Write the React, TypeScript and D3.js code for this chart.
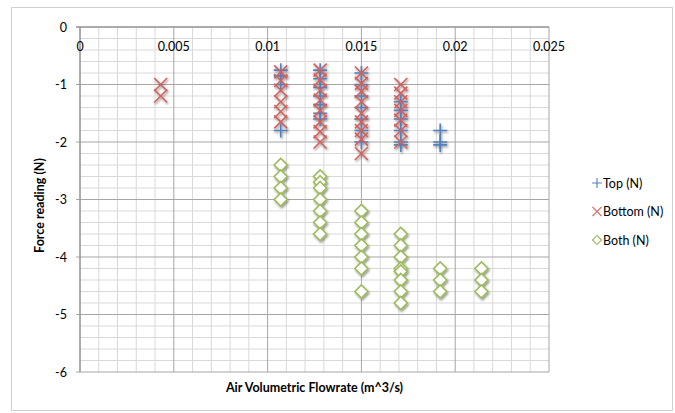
import React from "react";
import * as d3 from "d3";

const xTicks = [0, 0.005, 0.01, 0.015, 0.02, 0.025];
const yTicks = [0, -1, -2, -3, -4, -5, -6];
const seriesNames = ["Top (N)", "Bottom (N)", "Both (N)"];

// [flowrate, force]
const topPoints: [number, number][] = [
  [0.0107, -0.75], [0.0107, -0.85], [0.0107, -1.0], [0.0107, -1.8],
  [0.0128, -0.75], [0.0128, -0.9], [0.0128, -1.05], [0.0128, -1.2], [0.0128, -1.35], [0.0128, -1.5], [0.0128, -1.6],
  [0.015, -0.8], [0.015, -1.0], [0.015, -1.2], [0.015, -1.4], [0.015, -1.6], [0.015, -1.8], [0.015, -2.0],
  [0.0171, -1.3], [0.0171, -1.45], [0.0171, -1.6], [0.0171, -1.8], [0.0171, -2.0], [0.0171, -2.05],
  [0.0192, -1.8], [0.0192, -2.0], [0.0192, -2.05],
];

const bottomPoints: [number, number][] = [
  [0.0043, -1.0], [0.0043, -1.2],
  [0.0107, -0.78], [0.0107, -0.93], [0.0107, -1.1], [0.0107, -1.3], [0.0107, -1.47], [0.0107, -1.65],
  [0.0128, -0.75], [0.0128, -0.92], [0.0128, -1.1], [0.0128, -1.27], [0.0128, -1.45], [0.0128, -1.65], [0.0128, -1.82], [0.0128, -2.0],
  [0.015, -0.8], [0.015, -0.98], [0.015, -1.12], [0.015, -1.3], [0.015, -1.5], [0.015, -1.65], [0.015, -1.8], [0.015, -1.95], [0.015, -2.2],
  [0.0171, -1.0], [0.0171, -1.15], [0.0171, -1.3], [0.0171, -1.45], [0.0171, -1.62], [0.0171, -1.8], [0.0171, -2.0],
];

const bothPoints: [number, number][] = [
  [0.0107, -2.4], [0.0107, -2.6], [0.0107, -2.8], [0.0107, -3.0],
  [0.0128, -2.6], [0.0128, -2.7], [0.0128, -2.8], [0.0128, -3.0], [0.0128, -3.2], [0.0128, -3.4], [0.0128, -3.6],
  [0.015, -3.2], [0.015, -3.4], [0.015, -3.6], [0.015, -3.8], [0.015, -4.0], [0.015, -4.2], [0.015, -4.6],
  [0.0171, -3.6], [0.0171, -3.8], [0.0171, -4.0], [0.0171, -4.2], [0.0171, -4.25], [0.0171, -4.4], [0.0171, -4.6], [0.0171, -4.8],
  [0.0192, -4.2], [0.0192, -4.4], [0.0192, -4.6],
  [0.0214, -4.2], [0.0214, -4.4], [0.0214, -4.6],
];

const BLUE = "#4F81BD";
const RED = "#D2605C";
const GREEN = "#9BBB59";
const FONT = "Lato, 'Open Sans', sans-serif";

function Plus({ cx, cy }: { cx: number; cy: number }) {
  const r = 7;
  return (
    <path d={`M${cx - r},${cy}H${cx + r}M${cx},${cy - r}V${cy + r}`} stroke={BLUE} strokeWidth={1.6} fill="none" />
  );
}
function Cross({ cx, cy }: { cx: number; cy: number }) {
  const r = 6.5;
  return (
    <path d={`M${cx - r},${cy - r}L${cx + r},${cy + r}M${cx - r},${cy + r}L${cx + r},${cy - r}`} stroke={RED} strokeWidth={1.6} fill="none" />
  );
}
function Diamond({ cx, cy }: { cx: number; cy: number }) {
  const r = 6.5;
  return (
    <path d={`M${cx},${cy - r}L${cx + r},${cy}L${cx},${cy + r}L${cx - r},${cy}Z`} stroke={GREEN} strokeWidth={1.6} fill="white" />
  );
}

export default function App() {
  const x = d3.scaleLinear().domain([0, 0.025]).range([80, 549]);
  const y = d3.scaleLinear().domain([0, -6]).range([27, 372]);
  const minorX = d3.range(0, 26).map((i) => i * 0.001);
  const minorY = d3.range(0, 31).map((i) => -i * 0.2);
  const isMajorX = (v: number) => Math.abs(v / 0.005 - Math.round(v / 0.005)) < 1e-6;
  const isMajorY = (v: number) => Math.abs(v - Math.round(v)) < 1e-6;
  const fmt = (v: number) => (v === 0 ? "0" : String(+v.toFixed(3)));

  const legendMarkers = [Plus, Cross, Diamond];

  return (
    <svg width={675} height={413} style={{ position: "absolute", left: 0, top: 0 }} fontFamily={FONT}>
      <defs>
        <filter id="sh" x="-50%" y="-50%" width="200%" height="200%">
          <feDropShadow dx={1} dy={1.5} stdDeviation={1.2} floodColor="#000" floodOpacity={0.45} />
        </filter>
      </defs>
      <rect x={0} y={0} width={675} height={413} fill="white" />
      <rect x={11.5} y={7.5} width={661} height={403} fill="white" stroke="#D0D0D0" strokeWidth={1} />

      {/* minor grid */}
      {minorX.filter((v) => !isMajorX(v)).map((v, i) => (
        <line key={"mx" + i} x1={x(v)} x2={x(v)} y1={y(0)} y2={y(-6)} stroke="#D9D9D9" strokeWidth={1} />
      ))}
      {minorY.filter((v) => !isMajorY(v)).map((v, i) => (
        <line key={"my" + i} x1={x(0)} x2={x(0.025)} y1={y(v)} y2={y(v)} stroke="#D9D9D9" strokeWidth={1} />
      ))}
      {/* major grid */}
      {xTicks.map((v, i) => (
        <line key={"Mx" + i} x1={x(v)} x2={x(v)} y1={y(0)} y2={y(-6)} stroke="#A6A6A6" strokeWidth={1} />
      ))}
      {yTicks.map((v, i) => (
        <line key={"My" + i} x1={x(0) - 4} x2={x(0.025)} y1={y(v)} y2={y(v)} stroke="#A6A6A6" strokeWidth={1} />
      ))}
      {/* axes lines */}
      <line x1={x(0)} x2={x(0)} y1={y(0)} y2={y(-6)} stroke="#868686" strokeWidth={1} />
      <line x1={x(0) - 4} x2={x(0.025)} y1={y(0)} y2={y(0)} stroke="#868686" strokeWidth={1} />

      {/* tick labels */}
      {xTicks.map((v, i) => (
        <text key={"tx" + i} x={x(v)} y={51} textAnchor="middle" fontSize={12.5} fill="#000">
          {fmt(v)}
        </text>
      ))}
      {yTicks.map((v, i) => (
        <text key={"ty" + i} x={67} y={y(v) + 4.5} textAnchor="end" fontSize={12.5} fill="#000">
          {fmt(v)}
        </text>
      ))}

      {/* titles */}
      <text x={(x(0) + x(0.025)) / 2} y={392} textAnchor="middle" fontSize={12.5} fontWeight="bold" fill="#000">
        Air Volumetric Flowrate (m^3/s)
      </text>
      <text transform={`translate(44,${(y(0) + y(-6)) / 2 + 6}) rotate(-90)`} textAnchor="middle" fontSize={12.5} fontWeight="bold" fill="#000">
        Force reading (N)
      </text>

      {/* data */}
      <g filter="url(#sh)">
        {topPoints.map(([a, b], i) => (
          <Plus key={"t" + i} cx={x(a)} cy={y(b)} />
        ))}
        {bottomPoints.map(([a, b], i) => (
          <Cross key={"b" + i} cx={x(a)} cy={y(b)} />
        ))}
        {bothPoints.map(([a, b], i) => (
          <Diamond key={"d" + i} cx={x(a)} cy={y(b)} />
        ))}
      </g>

      {/* legend */}
      {seriesNames.map((name, i) => {
        const M = legendMarkers[i];
        const cy = 183 + i * 28.5;
        return (
          <g key={"l" + i}>
            <g transform={`translate(${597},${cy}) scale(0.7) translate(${-597},${-cy})`}>
              <M cx={597} cy={cy} />
            </g>
            <text x={603} y={cy + 4.5} fontSize={12.5} fill="#000">
              {name}
            </text>
          </g>
        );
      })}
    </svg>
  );
}
